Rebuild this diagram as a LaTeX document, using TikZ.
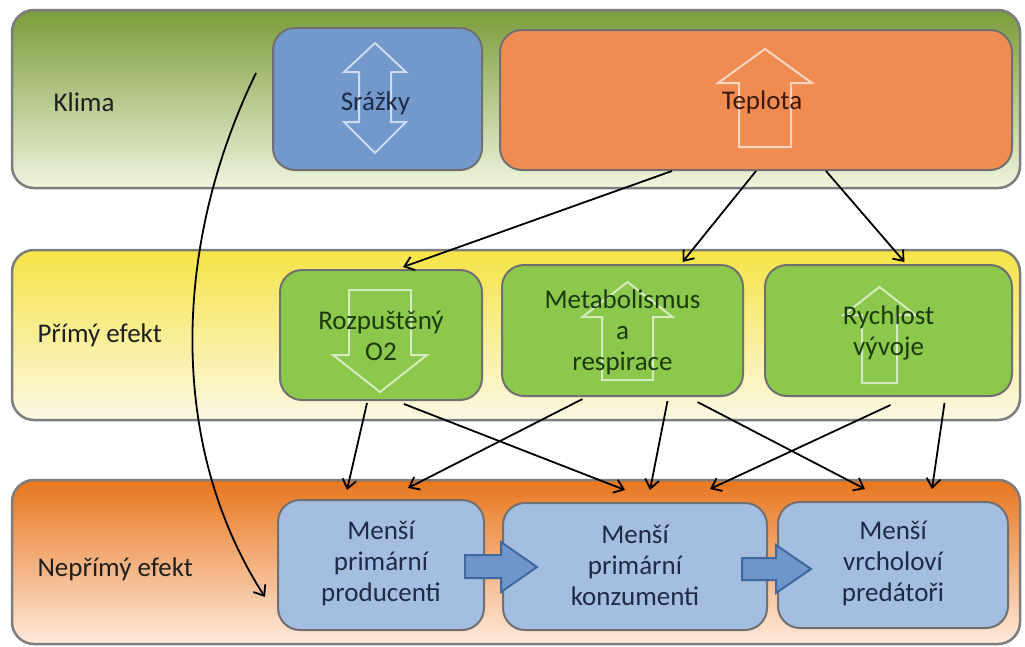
\documentclass[tikz,border=0pt]{standalone}
\usepackage{fontspec}
\setmainfont{Carlito}
\usetikzlibrary{arrows.meta,calc}
\definecolor{bandline}{RGB}{125,125,125}
\definecolor{boxline}{RGB}{112,112,112}
\definecolor{klimatop}{RGB}{122,156,58}
\definecolor{klimamid}{RGB}{204,224,142}
\definecolor{klimabot}{RGB}{240,245,222}
\definecolor{primtop}{RGB}{246,228,70}
\definecolor{primmid}{RGB}{249,240,160}
\definecolor{primbot}{RGB}{251,248,228}
\definecolor{neptop}{RGB}{232,118,30}
\definecolor{nepmid}{RGB}{246,176,122}
\definecolor{nepbot}{RGB}{253,234,220}
\definecolor{srazfill}{RGB}{114,152,204}
\definecolor{tepfill}{RGB}{240,140,82}
\definecolor{greenfill}{RGB}{140,200,75}
\definecolor{bluefill}{RGB}{164,190,225}
\definecolor{bluetext}{RGB}{30,42,70}
\definecolor{greentext}{RGB}{28,58,14}
\definecolor{teptext}{RGB}{60,26,10}
\definecolor{blockfill}{RGB}{110,150,202}
\definecolor{blockline}{RGB}{62,104,158}
\begin{document}
\begin{tikzpicture}[x=1pt,y=-1pt,
  every node/.style={font=\fontsize{27}{31}\selectfont},
  band/.style={draw=bandline, line width=2.5pt, rounded corners=22pt, minimum width=1008pt, inner sep=0pt},
  box/.style={draw=boxline, line width=2pt, rounded corners=22pt, inner sep=0pt},
  boxtext/.style={align=center, inner sep=0pt},
  outl/.style={draw=white, draw opacity=0.65, line width=2pt, line join=miter, sharp corners},
  conn/.style={line width=1.8pt, -{Straight Barb[length=9pt,width=14pt]}},
  blockarrow/.style={fill=blockfill, draw=blockline, line width=2pt, line join=miter},
  lbl/.style={anchor=west, text=black!88}
]
\useasboundingbox (0,0) rectangle (1025,646);

% bands
\node[band, minimum height=178pt, top color=klimatop, middle color=klimamid, bottom color=klimabot] (bk) at (516,99) {};
\node[band, minimum height=170pt, top color=primtop, middle color=primmid, bottom color=primbot] (bp) at (516,335) {};
\node[band, minimum height=164pt, top color=neptop, middle color=nepmid, bottom color=nepbot] (bn) at (516,562) {};

\node[lbl] (lk) at (50,102) {Klima};
\node[lbl] (lp) at (34,335) {Přímý efekt};
\node[lbl] (ln) at (34,569) {Nepřímý efekt};

% top row boxes
\node[box, fill=srazfill, minimum width=209pt, minimum height=142pt] (sraz) at (377.5,99) {};
\node[box, fill=tepfill, minimum width=512pt, minimum height=140pt] (tep) at (756,100) {};
% middle row boxes
\node[box, fill=greenfill, minimum width=202pt, minimum height=130pt] (roz) at (381,335) {};
\node[box, fill=greenfill, minimum width=241pt, minimum height=131pt] (met) at (622.5,330.5) {};
\node[box, fill=greenfill, minimum width=247pt, minimum height=131pt] (ryc) at (888.5,330.5) {};
% bottom row boxes
\node[box, fill=bluefill, minimum width=206pt, minimum height=130pt] (prod) at (381,565) {};
\node[box, fill=bluefill, minimum width=264pt, minimum height=127pt] (konz) at (635,566.5) {};
\node[box, fill=bluefill, minimum width=230pt, minimum height=126pt] (pred) at (893,565) {};

% outline arrows inside boxes
\draw[outl, shift={(sraz.center)}, xshift=-2.5pt]
   (0,-56) -- (31,-27) -- (16,-27) -- (16,23) -- (31,23) -- (0,54) -- (-31,23) -- (-16,23) -- (-16,-27) -- (-31,-27) -- cycle;
\draw[outl, shift={(tep.center)}, xshift=9pt]
   (0,-51) -- (47,-17) -- (26,-17) -- (26,47) -- (-26,47) -- (-26,-17) -- (-47,-17) -- cycle;
\draw[outl, shift={(roz.center)}, xshift=-1pt]
   (-31,-45) -- (31,-45) -- (31,20) -- (47,20) -- (0,57) -- (-47,20) -- (-31,20) -- cycle;
\draw[outl, shift={(met.center)}, xshift=5pt]
   (0,-48.5) -- (45,-13.5) -- (25.5,-13.5) -- (25.5,49.5) -- (-25.5,49.5) -- (-25.5,-13.5) -- (-45,-13.5) -- cycle;
\draw[outl, shift={(ryc.center)}, xshift=-9pt]
   (0,-43.5) -- (36,-15.5) -- (17.5,-15.5) -- (17.5,52.5) -- (-17.5,52.5) -- (-17.5,-15.5) -- (-36,-15.5) -- cycle;

% box texts
\node[boxtext, text=bluetext] (srazt) at ([xshift=-2pt,yshift=-4pt]sraz.center) {Srážky};
\node[boxtext, text=teptext] (tept) at ([xshift=6pt,yshift=-2pt]tep.center) {Teplota};
\node[boxtext, text=greentext] (rozt) at ([yshift=-1pt]roz.center) {Rozpuštěný\\O2};
\node[boxtext, text=greentext] (mett) at ([yshift=-2pt]met.center) {Metabolismus\\a\\respirace};
\node[boxtext, text=greentext] (ryct) at ([yshift=-2pt]ryc.center) {Rychlost\\vývoje};
\node[boxtext, text=bluetext] (prodt) at ([yshift=2pt]prod.center) {Menší\\primární\\producenti};
\node[boxtext, text=bluetext] (konzt) at ([yshift=1pt]konz.center) {Menší\\primární\\konzumenti};
\node[boxtext, text=bluetext] (predt) at ([yshift=2pt]pred.center) {Menší\\vrcholoví\\predátoři};

% block arrows
\draw[blockarrow] (465,555) -- (501,555) -- (501,542) -- (537,567) -- (501,592) -- (501,578) -- (465,578) -- cycle;
\draw[blockarrow] (742,558) -- (776,558) -- (776,545) -- (811,569) -- (776,593) -- (776,580) -- (742,580) -- cycle;

% connectors
\draw[conn] ([xshift=-84pt]tep.south) -- ([xshift=22pt,yshift=2pt]roz.north);
\draw[conn] (tep.south) -- ([xshift=60pt,yshift=2pt]met.north);
\draw[conn] ([xshift=70pt]tep.south) -- ([xshift=16pt,yshift=2pt]ryc.north);

\draw[conn] ([xshift=-14pt,yshift=-2pt]roz.south) -- ([xshift=-34pt,yshift=9pt]prod.north);
\draw[conn] ([xshift=23pt,yshift=-3pt]roz.south) -- ([xshift=-10pt,yshift=12pt]konz.north);
\draw[conn] ([xshift=-40pt,yshift=-2pt]met.south) -- ([xshift=27pt,yshift=11pt]prod.north);
\draw[conn] ([xshift=45pt,yshift=-4pt]met.south) -- ([xshift=15pt,yshift=12pt]konz.north);
\draw[conn] ([xshift=75pt,yshift=-5pt]met.south) -- ([xshift=-28pt,yshift=12pt]pred.north);
\draw[conn] ([xshift=2pt,yshift=-8pt]ryc.south) -- ([xshift=75pt,yshift=13pt]konz.north);
\draw[conn] ([xshift=56pt,yshift=-6pt]ryc.south) -- ([xshift=39pt,yshift=12pt]pred.north);

% curved arrow
\coordinate (cs) at (256,73);
\coordinate (ce) at (265,597);
\draw[conn] (cs) .. controls (170,250) and (170,450) .. (ce);
\end{tikzpicture}
\end{document}
